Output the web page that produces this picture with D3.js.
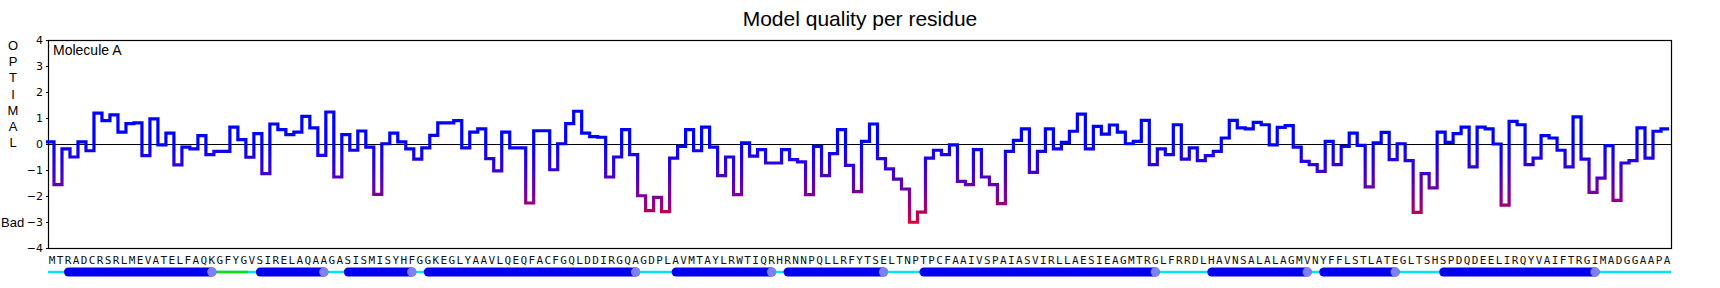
<!DOCTYPE html>
<html>
<head>
<meta charset="utf-8">
<script src="https://cdn.jsdelivr.net/npm/d3@7"></script>
<style>
  html, body { margin: 0; padding: 0; background: #fff; }
  svg { display: block; }
  .title { font-family: "Liberation Sans", Arial, sans-serif; font-size: 21px; }
  .side-label { font-family: "Liberation Sans", Arial, sans-serif; font-size: 13px; }
  .mol-label { font-family: "Liberation Sans", Arial, sans-serif; font-size: 14px; }
  .axis text { font-family: "DejaVu Sans", sans-serif; font-size: 11px; fill: #000; }
  .axis path, .axis line { stroke: #000; }
  .seq { font-family: "DejaVu Sans Mono", monospace; font-size: 11px; fill: #111; }
</style>
</head>
<body>
<svg id="chart" width="1720" height="288"></svg>
<script>
const SEQUENCE = "MTRADCRSRLMEVATELFAQKGFYGVSIRELAQAAGASISMISYHFGGKEGLYAAVLQEQFACFGQLDDIRGQAGDPLAVMTAYLRWTIQRHRNNPQLLRFYTSELTNPTPCFAAIVSPAIASVIRLLAESIEAGMTRGLFRRDLHAVNSALALAGMVNYFFLSTLATEGLTSHSPDQDEELIRQYVAIFTRGIMADGGAAPA";

// per-residue quality score, residues 1..203
const QUALITY = [
  0.08, -1.56, -0.19, -0.50, 0.08, -0.26, 1.19, 0.90, 1.12, 0.46,
  0.78, 0.81, -0.45, 0.97, -0.03, 0.42, -0.80, -0.12, -0.19, 0.32,
  -0.41, -0.28, -0.28, 0.65, 0.17, -0.51, 0.40, -1.14, 0.77, 0.55,
  0.36, 0.46, 1.06, 0.62, -0.44, 1.23, -1.27, 0.36, -0.24, 0.50,
  -0.12, -1.94, 0.01, 0.42, 0.08, -0.19, -0.58, -0.15, 0.33, 0.81,
  0.81, 0.90, -0.15, 0.46, 0.58, -0.56, -1.03, 0.46, -0.15, -0.15,
  -2.27, 0.51, 0.51, -0.99, 0.01, 0.78, 1.26, 0.42, 0.28, 0.26,
  -1.27, -0.50, 0.55, -0.41, -1.99, -2.56, -2.05, -2.60, -0.54, -0.09,
  0.55, -0.26, 0.65, -0.12, -1.22, -0.50, -1.95, 0.04, -0.47, -0.22,
  -0.73, -0.73, -0.22, -0.60, -0.69, -1.95, -0.09, -1.22, -0.37, 0.55,
  -0.82, -1.83, 0.10, 0.77, -0.56, -0.96, -1.35, -1.73, -3.01, -2.62,
  -0.54, -0.24, -0.41, -0.03, -1.44, -1.56, -0.22, -1.27, -1.56, -2.29,
  -0.28, 0.14, 0.58, -1.09, -0.28, 0.58, -0.19, 0.06, 0.49, 1.15,
  -0.19, 0.68, 0.38, 0.73, 0.46, 0.01, 0.10, 0.91, -0.79, -0.19,
  -0.41, 0.74, -0.58, -0.15, -0.64, -0.45, -0.28, 0.23, 0.91, 0.62,
  0.58, 0.83, 0.74, -0.03, 0.64, 0.71, -0.12, -0.67, -0.79, -1.05,
  0.10, -0.79, -0.09, 0.42, -0.05, -1.65, 0.04, 0.45, -0.60, 0.01,
  -0.64, -2.63, -1.14, -1.69, 0.46, 0.06, 0.40, 0.65, -0.88, 0.65,
  0.58, 0.00, -2.35, 0.87, 0.74, -0.79, -0.54, 0.32, 0.23, -0.24,
  -0.88, 1.04, -0.58, -1.86, -1.31, -0.06, -2.17, -0.73, -0.64, 0.62,
  -0.54, 0.49, 0.58
];

// secondary structure, [first residue, last residue]
const HELICES = [[3, 21], [27, 35], [38, 46], [48, 74], [79, 91], [93, 105], [110, 139], [146, 158], [160, 169], [175, 194]];
const TURNS = [[22, 25]];

const Y_TICKS = [-4, -3, -2, -1, 0, 1, 2, 3, 4];
const SIDE_LETTERS = ["O", "P", "T", "I", "M", "A", "L"];

// colour of the trace along the value axis
const COLOR_STOPS = [[0, "#0000ff"], [-1, "#3a00d4"], [-2, "#7d0096"], [-3, "#d6003a"]];

const width = 1720;
const height = 288;
const margin = { top: 40, right: 49, bottom: 40, left: 48 };
const plotW = width - margin.left - margin.right;
const plotH = height - margin.top - margin.bottom;
const n = SEQUENCE.length;
const STEP_SHIFT = 0.25; // trace sits a quarter residue left of the letters

const svg = d3.select("#chart");

const x = d3.scaleLinear().domain([0, n]).range([margin.left, margin.left + plotW]);
const y = d3.scaleLinear().domain([-4, 4]).range([margin.top + plotH, margin.top]);

svg.append("text")
  .attr("class", "title")
  .attr("x", width / 2)
  .attr("y", 26)
  .attr("text-anchor", "middle")
  .text("Model quality per residue");

// gradient
const grad = svg.append("defs").append("linearGradient")
  .attr("id", "qualityGrad")
  .attr("gradientUnits", "userSpaceOnUse")
  .attr("x1", 0).attr("x2", 0)
  .attr("y1", y(0)).attr("y2", y(-3));
grad.selectAll("stop")
  .data(COLOR_STOPS)
  .join("stop")
  .attr("offset", d => (-d[0] / 3))
  .attr("stop-color", d => d[1]);

// y axis
svg.append("g")
  .attr("class", "axis")
  .attr("transform", `translate(${margin.left},0)`)
  .call(d3.axisLeft(y).tickValues(Y_TICKS).tickSize(2).tickPadding(3))
  .call(g => g.select(".domain").remove());

// frame
svg.append("rect")
  .attr("x", margin.left + 0.5)
  .attr("y", margin.top + 0.5)
  .attr("width", plotW)
  .attr("height", plotH)
  .attr("fill", "none")
  .attr("stroke", "#000")
  .attr("stroke-width", 1.2);

// zero line
svg.append("line")
  .attr("x1", x(0)).attr("x2", x(n))
  .attr("y1", Math.round(y(0)) + 0.5).attr("y2", Math.round(y(0)) + 0.5)
  .attr("stroke", "#000")
  .attr("stroke-width", 1);

// side labels
svg.append("g")
  .selectAll("text")
  .data(SIDE_LETTERS)
  .join("text")
  .attr("class", "side-label")
  .attr("x", 13)
  .attr("y", (d, i) => 50 + i * 16.2)
  .attr("text-anchor", "middle")
  .text(d => d);

svg.append("text")
  .attr("class", "side-label")
  .attr("x", 1)
  .attr("y", 227)
  .text("Bad");

svg.append("text")
  .attr("class", "mol-label")
  .attr("x", margin.left + 5)
  .attr("y", 55)
  .text("Molecule A");

// quality trace as steps, one flat piece per residue
const stepPoints = [];
QUALITY.forEach((v, i) => {
  stepPoints.push([i - STEP_SHIFT, v]);
  stepPoints.push([i + 1 - STEP_SHIFT, v]);
});

const line = d3.line()
  .x(d => x(d[0]))
  .y(d => y(d[1]));

svg.append("path")
  .datum(stepPoints)
  .attr("d", line)
  .attr("fill", "none")
  .attr("stroke", "url(#qualityGrad)")
  .attr("stroke-width", 3.2)
  .attr("stroke-linejoin", "miter");

// sequence letters
svg.append("g")
  .selectAll("text")
  .data(SEQUENCE.split(""))
  .join("text")
  .attr("class", "seq")
  .attr("x", (d, i) => x(i + 0.5))
  .attr("y", 264)
  .attr("text-anchor", "middle")
  .text(d => d);

// secondary structure track
const ssY = 272;
const ss = svg.append("g");

ss.append("line")
  .attr("x1", x(0)).attr("x2", x(n))
  .attr("y1", ssY).attr("y2", ssY)
  .attr("stroke", "#00e5ee")
  .attr("stroke-width", 2.5);

ss.selectAll("line.turn")
  .data(TURNS)
  .join("line")
  .attr("class", "turn")
  .attr("x1", d => x(d[0] - 1))
  .attr("x2", d => x(d[1]))
  .attr("y1", ssY).attr("y2", ssY)
  .attr("stroke", "#11dd11")
  .attr("stroke-width", 2.5);

ss.selectAll("line.helix")
  .data(HELICES)
  .join("line")
  .attr("class", "helix")
  .attr("x1", d => x(d[0] - 1) + 4.5)
  .attr("x2", d => x(d[1] - 0.5))
  .attr("y1", ssY).attr("y2", ssY)
  .attr("stroke", "#0000ee")
  .attr("stroke-width", 9)
  .attr("stroke-linecap", "round");

ss.selectAll("circle")
  .data(HELICES)
  .join("circle")
  .attr("cx", d => x(d[1] - 0.5))
  .attr("cy", ssY)
  .attr("r", 4.7)
  .attr("fill", "#8080ff");
</script>
</body>
</html>
